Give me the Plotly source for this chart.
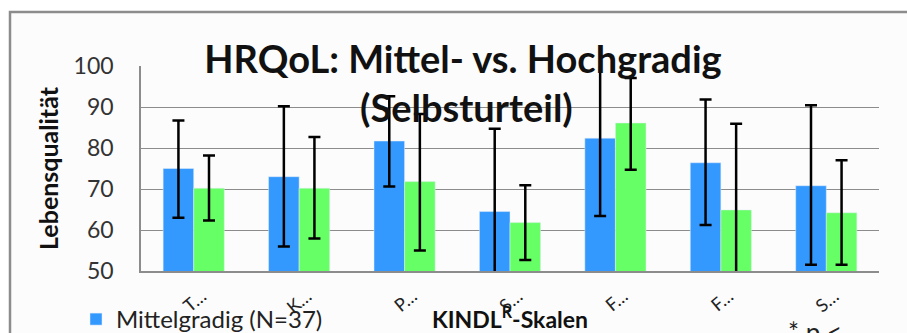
import plotly.graph_objects as go

# ---- data ----
categories = ["Total", "Körper", "Psyche", "Selbstwert", "Familie", "Freunde", "Schule"]
tick_labels = ["T…", "K…", "P…", "S…", "F…", "F…", "S…"]

mittel_name = "Mittelgradig (N=37)"
mittel_values = [75.0, 73.0, 81.7, 64.5, 82.4, 76.4, 70.8]
mittel_err_plus = [11.7, 17.2, 10.9, 20.2, 22.0, 15.4, 19.6]
mittel_err_minus = [12.0, 17.0, 11.1, 20.2, 19.0, 15.2, 19.3]

hoch_name = "Hochgradig"
hoch_values = [70.2, 70.2, 71.8, 61.8, 86.1, 64.9, 64.2]
hoch_err_plus = [8.0, 12.5, 16.5, 9.1, 11.0, 21.0, 12.8]
hoch_err_minus = [7.9, 12.3, 16.8, 9.1, 11.4, 21.0, 12.7]

y_ticks = [50, 60, 70, 80, 90, 100]

FONT = "Lato"
W, H = 907, 333
L, R, T, B = 141, 28, 66, 62

def px_x(px):
    return (px - L) / (W - L - R)

def px_y(py):
    return (H - B - py) / (H - T - B)

err_style = dict(type="data", symmetric=False, color="black", thickness=2.5, width=6)

fig = go.Figure()
fig.add_trace(go.Bar(
    name=mittel_name, x=categories, y=mittel_values, marker_color="#3399ff",
    error_y=dict(array=mittel_err_plus, arrayminus=mittel_err_minus, **err_style),
))
fig.add_trace(go.Bar(
    name=hoch_name, x=categories, y=hoch_values, marker_color="#66ff66",
    error_y=dict(array=hoch_err_plus, arrayminus=hoch_err_minus, **err_style),
))

fig.update_layout(
    width=W, height=H,
    margin=dict(l=L, r=R, t=T, b=B, autoexpand=False),
    paper_bgcolor="white", plot_bgcolor="rgba(0,0,0,0)",
    font=dict(family=FONT, color="#222"),
    barmode="group", bargap=0.42, bargroupgap=0,
    showlegend=True,
    legend=dict(x=px_x(76), y=px_y(297), xanchor="left", yanchor="top",
                orientation="v", font=dict(size=24, family=FONT, color="#222"),
                bgcolor="rgba(0,0,0,0)"),
    title=dict(text="<b>HRQoL: Mittel- vs. Hochgradig</b>",
               font=dict(size=38, family=FONT, color="#111"),
               x=px_x(463), xanchor="center", xref="paper",
               y=1 - 73 / H, yanchor="bottom", yref="container", pad=dict(b=0)),
    shapes=[dict(type="rect", xref="paper", yref="paper",
                 x0=px_x(10), x1=px_x(940), y0=px_y(360), y1=px_y(12),
                 line=dict(color="#8c8c8c", width=2.5), fillcolor="#fcfcfc", layer="below")],
    annotations=[
        dict(text="<b>(Selbsturteil)</b>", xref="paper", yref="paper",
             x=px_x(466), y=px_y(132), xanchor="center", yanchor="bottom",
             showarrow=False, font=dict(size=38, family=FONT, color="#111")),
        dict(text="* p <", xref="paper", yref="paper",
             x=px_x(786), y=px_y(314), xanchor="left", yanchor="top",
             showarrow=False, font=dict(size=26, family=FONT, color="#222")),
    ],
)

fig.update_xaxes(
    tickmode="array", tickvals=categories, ticktext=tick_labels,
    tickangle=-40, tickfont=dict(size=18, family=FONT, color="#222"),
    ticks="", showline=True, linecolor="#8c8c8c", linewidth=1.5, showgrid=False,
    ticklabelshift=8, ticklabelstandoff=6,
    title=dict(text="<b>KINDL<sup>R</sup>-Skalen</b>", font=dict(size=23, family=FONT, color="#111"),
               standoff=0),
)
fig.update_yaxes(
    range=[50, 100], tickvals=y_ticks, tickfont=dict(size=23, family=FONT, color="#333"),
    ticks="", showline=True, linecolor="#8c8c8c", linewidth=1.5,
    showgrid=True, gridcolor="#8c8c8c", gridwidth=1, zeroline=False,
    ticklabelstandoff=21,
    title=dict(text="<b>Lebensqualität</b>", font=dict(size=25, family=FONT, color="#111"),
               standoff=8),
)

fig.write_html("out.html", config={"displayModeBar": False},
               post_script="document.body.style.margin='0px';")
